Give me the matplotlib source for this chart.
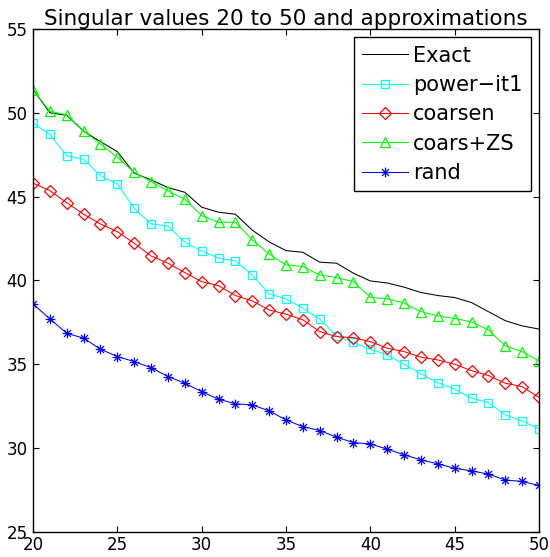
import numpy as np
import matplotlib.pyplot as plt
from matplotlib.path import Path

# index of singular values
idx = np.arange(20, 51)

exact = [51.4, 50.0, 49.85, 48.9, 48.28, 47.68, 46.4, 46.0, 45.54, 45.26,
         44.37, 44.07, 43.95, 43.0, 42.3, 41.78, 41.68, 41.09, 41.03, 40.43,
         39.97, 39.85, 39.6, 39.28, 39.1, 38.98, 38.68, 38.14, 37.6, 37.29, 37.1]
power_it1 = [49.38, 48.72, 47.43, 47.23, 46.25, 45.76, 44.31, 43.37, 43.25, 42.28,
             41.76, 41.33, 41.17, 40.33, 39.2, 38.9, 38.35, 37.69, 36.69, 36.3,
             35.9, 35.56, 35.0, 34.43, 33.91, 33.51, 32.98, 32.72, 31.98, 31.62, 31.15]
coarsen = [45.8, 45.36, 44.64, 43.95, 43.37, 42.91, 42.22, 41.46, 41.03, 40.47,
           39.93, 39.69, 39.1, 38.78, 38.24, 37.99, 37.65, 36.95, 36.65, 36.59,
           36.35, 35.96, 35.76, 35.42, 35.26, 35.0, 34.62, 34.33, 33.87, 33.67, 33.02]
coars_zs = [51.36, 50.1, 49.87, 48.92, 48.14, 47.35, 46.45, 45.9, 45.34, 44.84,
            43.87, 43.47, 43.47, 42.42, 41.57, 40.93, 40.83, 40.33, 40.17, 39.93,
            39.0, 38.9, 38.66, 38.14, 37.89, 37.73, 37.53, 37.05, 36.1, 35.76, 35.2]
rand = [38.6, 37.71, 36.85, 36.56, 35.9, 35.46, 35.16, 34.8, 34.27, 33.87,
        33.37, 32.92, 32.64, 32.58, 32.22, 31.68, 31.28, 31.05, 30.65, 30.33,
        30.25, 29.94, 29.6, 29.3, 29.06, 28.8, 28.64, 28.45, 28.1, 28.01, 27.77]

# MATLAB-style asterisk: plus and cross strokes
d = 0.7071
asterisk = Path([(-1, 0), (1, 0), (0, -1), (0, 1), (-d, -d), (d, d), (-d, d), (d, -d)],
                [Path.MOVETO, Path.LINETO] * 4)

fig = plt.figure(figsize=(5.5, 5.57), dpi=100)
ax = fig.add_axes([0.06, 0.045, 0.92, 0.903])

lw = 0.75
ax.plot(idx, exact, color='black', lw=lw, label='Exact')
ax.plot(idx, power_it1, color='cyan', lw=lw, marker='s', ms=5.8, mfc='none', mew=0.9,
        label='power\u2212it1')
ax.plot(idx, coarsen, color='red', lw=lw, marker='D', ms=6.2, mfc='none', mew=0.9,
        label='coarsen')
ax.plot(idx, coars_zs, color='#00ff00', lw=lw, marker='^', ms=7.5, mfc='none', mew=0.9,
        label='coars+ZS')
ax.plot(idx, rand, color='blue', lw=lw, marker=asterisk, ms=7, mew=0.9, label='rand')

ax.set_xlim(20, 50)
ax.set_ylim(25, 55)
ax.set_xticks(range(20, 51, 5))
ax.set_yticks(range(25, 56, 5))
ax.tick_params(direction='in', top=True, right=True, labelsize=12, length=4)
ax.tick_params(axis='y', pad=4)
ax.tick_params(axis='x', pad=3)
for s in ax.spines.values():
    s.set_linewidth(1.0)

ax.set_title('Singular values 20 to 50 and approximations', fontsize=15.5, pad=3)

leg = ax.legend(loc='upper right', fontsize=15, fancybox=False, framealpha=1,
                edgecolor='black', handlelength=2.2, borderpad=0.4,
                labelspacing=0.45, handletextpad=0.25, borderaxespad=0.4)
leg.get_frame().set_linewidth(1.0)

fig.savefig('out.png', dpi=100)
